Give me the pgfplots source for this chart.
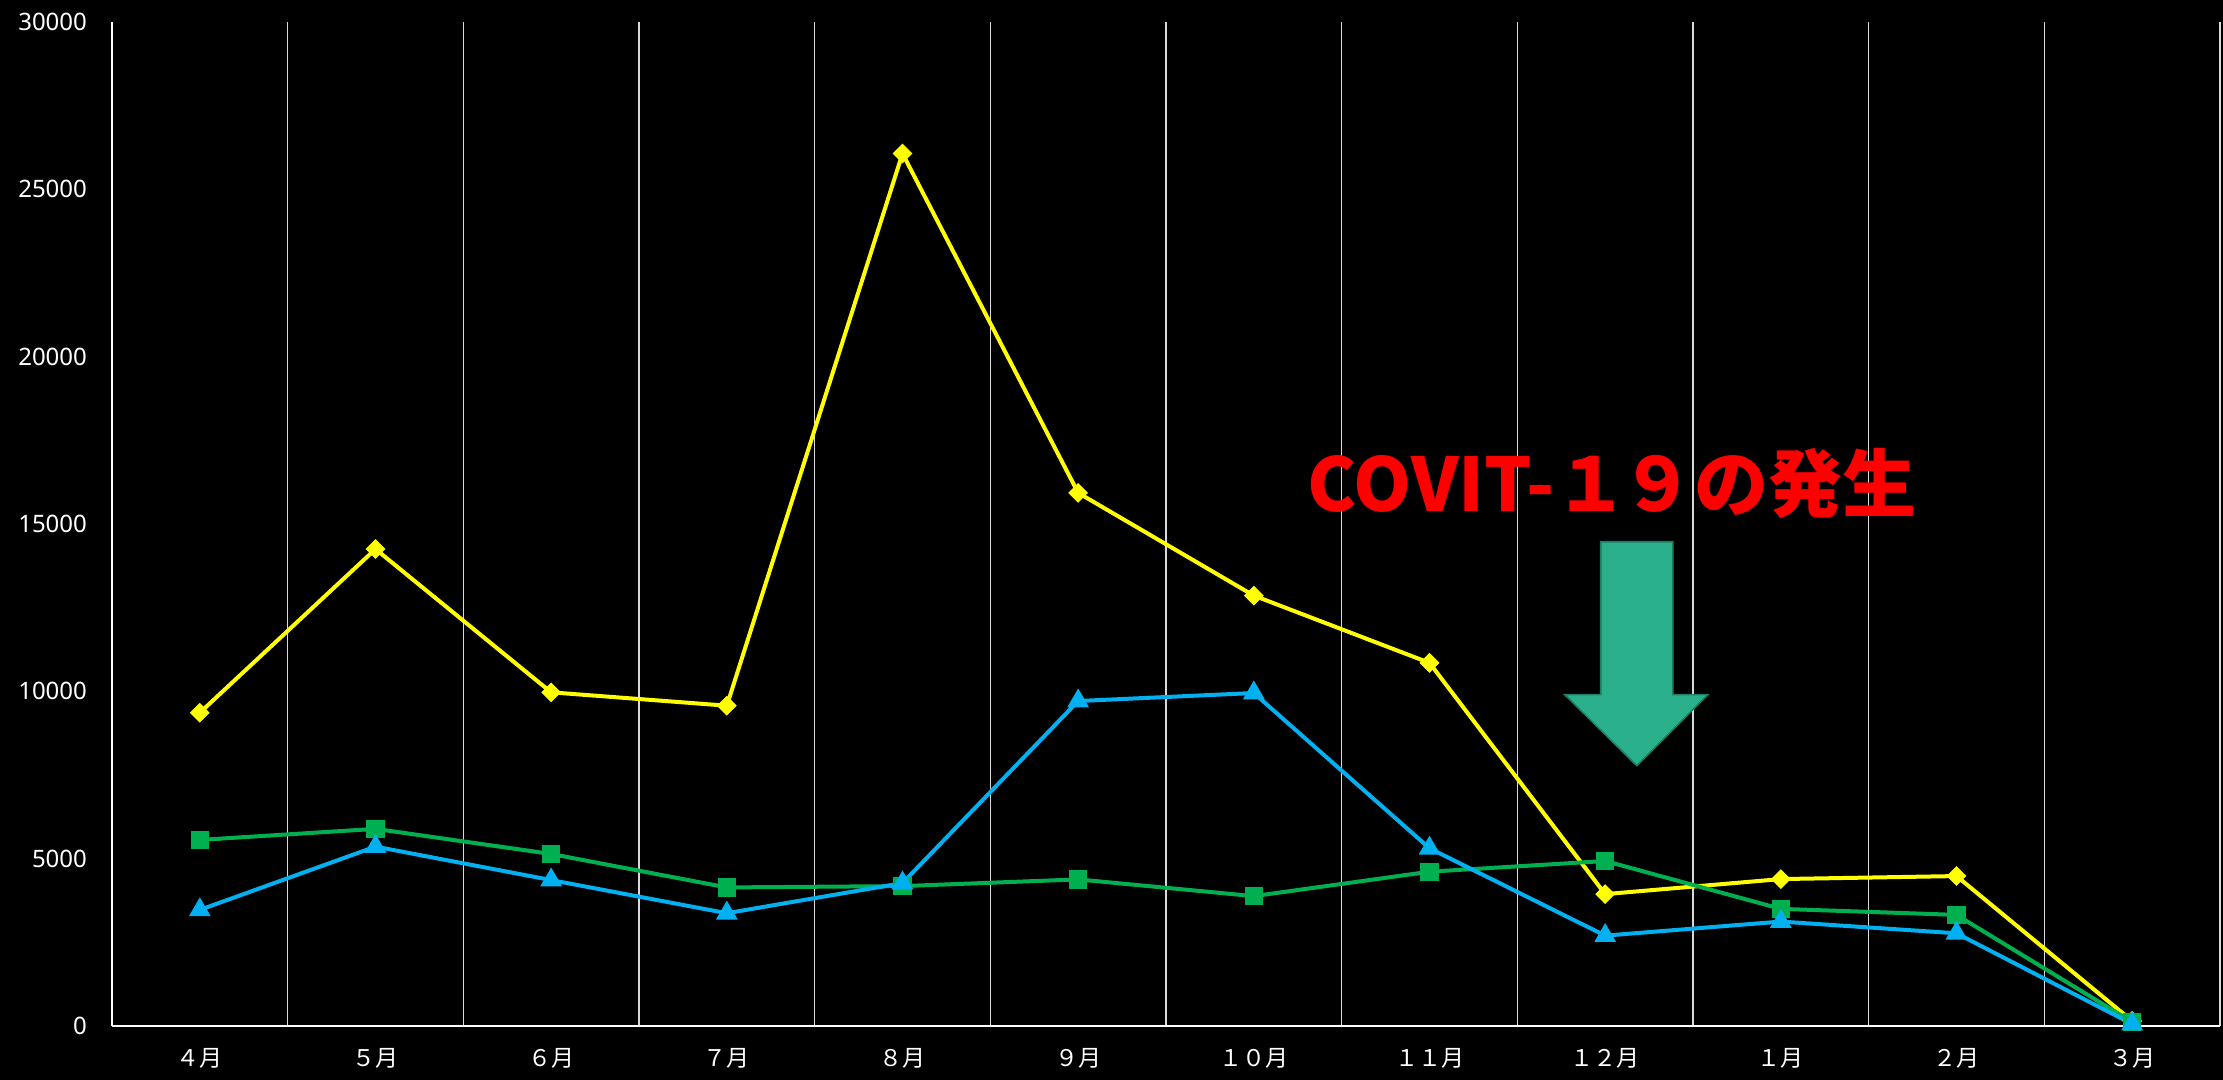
\documentclass[border=0pt]{standalone}
\usepackage{pgfplots}
\pgfplotsset{compat=1.18}
\usepackage{fontspec}
\setmainfont{Noto Sans}
\newfontfamily\jp{Noto Sans CJK JP}
\definecolor{cyel}{RGB}{255,255,0}
\definecolor{cgrn}{RGB}{0,176,80}
\definecolor{cblu}{RGB}{0,176,240}
\definecolor{arrfill}{RGB}{43,176,140}
\definecolor{arrdraw}{RGB}{30,125,98}
\begin{document}
\begin{tikzpicture}
\fill[black] (-56pt,-27pt) rectangle (1055.5pt,513pt);
\begin{axis}[
  scale only axis,
  width=1054pt, height=502pt,
  xmin=-0.5, xmax=11.5, ymin=0, ymax=30000,
  axis x line*=bottom, axis y line*=left,
  axis line style={white, line width=1pt},
  xtick={0,...,11},
  xticklabels={４月,５月,６月,７月,８月,９月,１０月,１１月,１２月,１月,２月,３月},
  xticklabel style={text=white, font=\jp\fontsize{11.5}{13}\selectfont, yshift=-7.5pt},
  ytick={0,5000,...,30000},
  yticklabel style={text=white, font=\fontsize{12}{14}\selectfont, xshift=-9pt},
  scaled y ticks=false,
  /pgf/number format/assume math mode=true,
  /pgf/number format/set thousands separator={},
  major tick length=0pt, minor tick length=0pt,
  minor xtick={0.5,1.5,...,11.5},
  xminorgrids=true,
  minor grid style={white!85!black, line width=0.6pt},
  clip=false,
]
\draw[fill=arrfill, draw=arrdraw, line width=0.8pt]
  (axis cs:7.975,14470) -- (axis cs:8.385,14470) -- (axis cs:8.385,9900) -- (axis cs:8.584,9900)
  -- (axis cs:8.18,7780) -- (axis cs:7.77,9900) -- (axis cs:7.975,9900) -- cycle;
\addplot[cyel, line width=2pt, mark=square*, mark size=2.5pt, mark options={rotate=45, fill=cyel, draw=cyel}]
  coordinates {(0,9360) (1,14250) (2,9970) (3,9570) (4,26070) (5,15930) (6,12860) (7,10850) (8,3940) (9,4390) (10,4480) (11,150)};
\addplot[cgrn, line width=2pt, mark=square*, mark size=3.6pt, mark options={fill=cgrn, draw=cgrn}]
  coordinates {(0,5560) (1,5890) (2,5140) (3,4140) (4,4180) (5,4380) (6,3880) (7,4610) (8,4930) (9,3500) (10,3320) (11,120)};
\addplot[cblu, line width=2pt, mark=triangle*, mark size=4.3pt, mark options={fill=cblu, draw=cblu}]
  coordinates {(0,3470) (1,5360) (2,4360) (3,3370) (4,4270) (5,9710) (6,9950) (7,5310) (8,2700) (9,3120) (10,2770) (11,60)};
\node[text=red, font=\jp\bfseries\fontsize{37}{40}\selectfont] at (axis cs:8.04,16200) {COVIT-１\kern-4pt ９の発生};
\end{axis}
\end{tikzpicture}
\end{document}
